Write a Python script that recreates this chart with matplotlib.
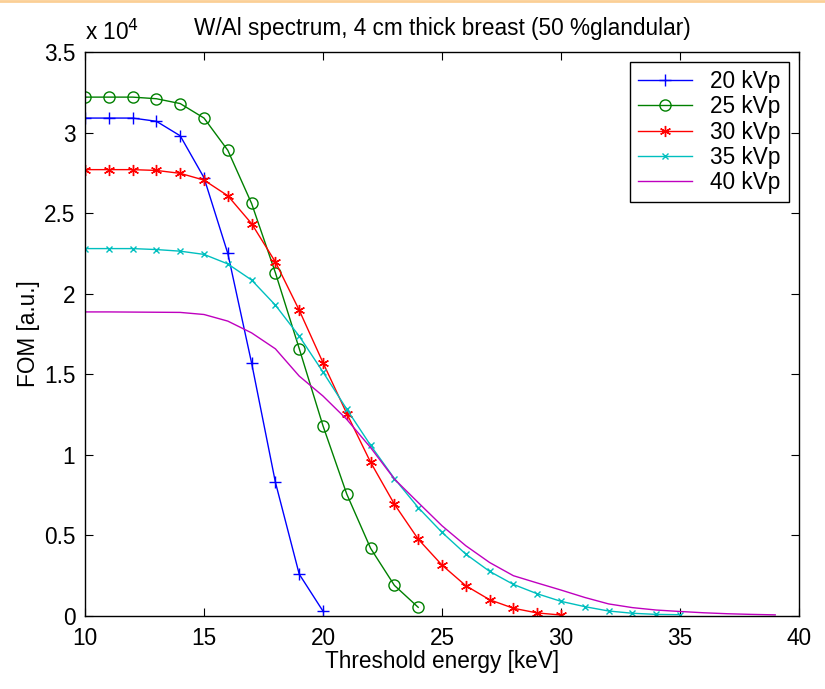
import numpy as np
import matplotlib.pyplot as plt
from matplotlib.ticker import FuncFormatter

# threshold energy (keV) and FOM values (units of 1e4) for each tube voltage
e20 = np.arange(10, 21)
fom20 = [3.09, 3.09, 3.09, 3.07, 2.98, 2.72, 2.25, 1.57, 0.83, 0.26, 0.03]
e25 = np.arange(10, 25)
fom25 = [3.22, 3.22, 3.22, 3.21, 3.18, 3.09, 2.89, 2.56, 2.13, 1.66, 1.18, 0.756, 0.42, 0.19, 0.054]
e30 = np.arange(10, 31)
fom30 = [2.77, 2.77, 2.77, 2.765, 2.747, 2.705, 2.608, 2.435, 2.197, 1.898, 1.572, 1.256, 0.954,
         0.694, 0.477, 0.316, 0.188, 0.101, 0.048, 0.019, 0.006]
e35 = np.arange(10, 36)
fom35 = [2.28, 2.28, 2.28, 2.274, 2.264, 2.244, 2.185, 2.085, 1.929, 1.737, 1.514, 1.283, 1.059,
         0.853, 0.673, 0.519, 0.384, 0.277, 0.196, 0.138, 0.091, 0.058, 0.031, 0.017, 0.010, 0.008]
e40 = np.arange(10, 40)
fom40 = [1.887, 1.887, 1.886, 1.885, 1.884, 1.871, 1.830, 1.757, 1.658, 1.489, 1.365, 1.22, 1.045,
         0.85, 0.704, 0.56, 0.436, 0.332, 0.25, 0.205, 0.161, 0.115, 0.075, 0.052, 0.037, 0.028,
         0.02, 0.014, 0.01, 0.007]
labels = ['20 kVp', '25 kVp', '30 kVp', '35 kVp', '40 kVp']

plt.rcParams['font.family'] = ['Liberation Sans', 'DejaVu Sans']
plt.rcParams['font.size'] = 16.3

fig = plt.figure(figsize=(8.25, 6.89), dpi=100)
ax = fig.add_axes([85/825, 73/689, 714/825, 564/689])

asterisk = (6, 2, 0)
ax.plot(e20, np.array(fom20)*1e4, color=(0, 0, 1), lw=1, marker='+', ms=8, mew=1, label=labels[0])
ax.plot(e25, np.array(fom25)*1e4, color=(0, 0.5, 0), lw=1, marker='o', ms=8, mew=1, mfc='none', label=labels[1])
ax.plot(e30, np.array(fom30)*1e4, color=(1, 0, 0), lw=1, marker=asterisk, ms=8, mew=1, label=labels[2])
ax.plot(e35, np.array(fom35)*1e4, color=(0, 0.75, 0.75), lw=1, marker='x', ms=4, mew=1, label=labels[3])
ax.plot(e40, np.array(fom40)*1e4, color=(0.75, 0, 0.75), lw=1, label=labels[4])

ax.set_xlim(10, 40)
ax.set_ylim(0, 3.5e4)
ax.set_xticks(np.arange(10, 41, 5))
ax.set_yticks(np.arange(0, 3.51e4, 0.5e4))
ax.yaxis.set_major_formatter(FuncFormatter(lambda v, p: '%g' % (v/1e4)))
ax.tick_params(direction='in', length=6, width=0.8, top=True, right=True)
ax.tick_params(axis='x', pad=8)
ax.tick_params(axis='y', pad=7)
for s in ax.spines.values():
    s.set_linewidth(1)

ax.set_xlabel('Threshold energy [keV]', labelpad=0)
ax.set_ylabel('FOM [a.u.]', labelpad=3)
ax.set_title('W/Al spectrum, 4 cm thick breast (50 %glandular)', fontsize=16.3, pad=12)
ax.text(0.0, 1.012, r'x 10$^{4}$', transform=ax.transAxes, ha='left', va='bottom', fontsize=16.3)

leg = ax.legend(loc='upper right', fancybox=False, framealpha=1, edgecolor='black',
                handlelength=2.4, borderaxespad=0.45, labelspacing=0.1, handletextpad=0.8,
                borderpad=0.35)
leg.get_frame().set_linewidth(1)

# thin orange strip along the top edge
fig.add_artist(plt.Line2D([0, 1], [0.999, 0.999], transform=fig.transFigure, color='#fbcf96', lw=2))

plt.savefig('out.png', dpi=100)
